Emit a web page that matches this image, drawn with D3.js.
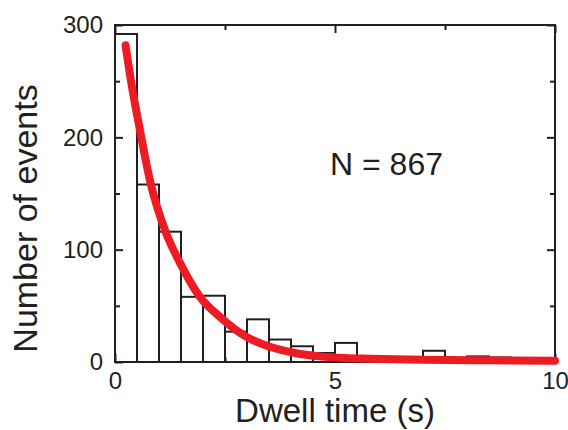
<!DOCTYPE html>
<html>
<head>
<meta charset="utf-8">
<script src="https://cdn.jsdelivr.net/npm/d3@7"></script>
<style>
  body { margin: 0; background: #fff; }
  svg text { font-family: "Liberation Sans", Arial, sans-serif; fill: #231f20; }
</style>
</head>
<body>
<svg id="chart" width="568" height="430"></svg>
<script>
// histogram bins (s), width 0.5
var binStarts = [0, 0.5, 1, 1.5, 2, 2.5, 3, 3.5, 4, 4.5, 5, 5.5, 6, 6.5, 7, 7.5, 8, 8.5, 9, 9.5];
var counts = [292, 158, 116, 58, 59, 27, 38, 20, 14, 8, 17, 5, 3, 3, 10, 3, 5, 4, 1, 1];
var binWidth = 0.5;

// red fit curve
var fitX = [0.24, 0.36, 0.55, 0.81, 1.14, 1.48, 1.93, 2.42, 2.96, 3.52, 4.09, 4.66, 5.23, 5.8, 7, 8.5, 10];
var fitY = [282, 251, 210, 159, 117, 88, 58, 39, 23, 13.5, 8, 5, 3.6, 3, 2, 1.5, 1.2];

var xMajor = [0, 5, 10];
var xMinor = [2.5, 7.5];
var yMajor = [0, 100, 200, 300];
var yMinor = [50, 150, 250];

var ink = "#231f20";
var svg = d3.select("#chart");
var margin = {left: 115, right: 13, top: 25, bottom: 68};
var width = 568 - margin.left - margin.right,
    height = 430 - margin.top - margin.bottom;

var g = svg.append("g")
    .attr("transform", "translate(" + margin.left + "," + margin.top + ")");

var x = d3.scaleLinear().domain([0, 10]).range([0, width]);
var y = d3.scaleLinear().domain([0, 300]).range([height, 0]);

// bars
g.selectAll(".bar")
    .data(counts)
  .enter().append("rect")
    .attr("class", "bar")
    .attr("x", (d, i) => x(binStarts[i]))
    .attr("y", d => y(d))
    .attr("width", x(binWidth) - x(0))
    .attr("height", d => y(0) - y(d))
    .attr("fill", "none")
    .attr("stroke", ink)
    .attr("stroke-width", 2);

// axes, ticks pointing inwards
function styleAxis(sel) {
  sel.select(".domain").remove();
  sel.selectAll("line").attr("stroke", ink).attr("stroke-width", 2);
  sel.selectAll("text").style("font-size", "24px").attr("fill", ink);
  sel.attr("font-family", null).attr("font-size", null);
}

g.append("g").attr("transform", "translate(0," + height + ")")
    .call(d3.axisBottom(x).tickValues(xMajor).tickSize(-8).tickPadding(10).tickFormat(d3.format("d")))
    .call(styleAxis);
g.append("g").attr("transform", "translate(0," + height + ")")
    .call(d3.axisBottom(x).tickValues(xMinor).tickSize(-5).tickFormat(""))
    .call(styleAxis);
g.append("g")
    .call(d3.axisTop(x).tickValues(xMajor).tickSize(-8).tickFormat(""))
    .call(styleAxis);
g.append("g")
    .call(d3.axisTop(x).tickValues(xMinor).tickSize(-5).tickFormat(""))
    .call(styleAxis);

g.append("g")
    .call(d3.axisLeft(y).tickValues(yMajor).tickSize(-8).tickPadding(12).tickFormat(d3.format("d")))
    .call(styleAxis);
g.append("g")
    .call(d3.axisLeft(y).tickValues(yMinor).tickSize(-5).tickFormat(""))
    .call(styleAxis);
g.append("g").attr("transform", "translate(" + width + ",0)")
    .call(d3.axisRight(y).tickValues(yMajor).tickSize(-8).tickFormat(""))
    .call(styleAxis);
g.append("g").attr("transform", "translate(" + width + ",0)")
    .call(d3.axisRight(y).tickValues(yMinor).tickSize(-5).tickFormat(""))
    .call(styleAxis);

// frame
g.append("rect")
    .attr("width", width)
    .attr("height", height)
    .attr("fill", "none")
    .attr("stroke", ink)
    .attr("stroke-width", 2);

// fit curve
var line = d3.line()
    .curve(d3.curveMonotoneX)
    .x(d => x(d[0]))
    .y(d => y(d[1]));

g.append("path")
    .datum(fitX.map((v, i) => [v, fitY[i]]))
    .attr("d", line)
    .attr("fill", "none")
    .attr("stroke", "#ed1c24")
    .attr("stroke-width", 8)
    .attr("stroke-linecap", "round")
    .attr("stroke-linejoin", "round");

// labels
svg.append("text")
    .attr("x", margin.left + width / 2)
    .attr("y", 422)
    .attr("text-anchor", "middle")
    .style("font-size", "33px")
    .text("Dwell time (s)");

svg.append("text")
    .attr("transform", "translate(37," + (margin.top + height / 2 + 25) + ") rotate(-90)")
    .attr("text-anchor", "middle")
    .style("font-size", "34px")
    .text("Number of events");

svg.append("text")
    .attr("x", 330)
    .attr("y", 175)
    .style("font-size", "32px")
    .text("N = 867");
</script>
</body>
</html>
